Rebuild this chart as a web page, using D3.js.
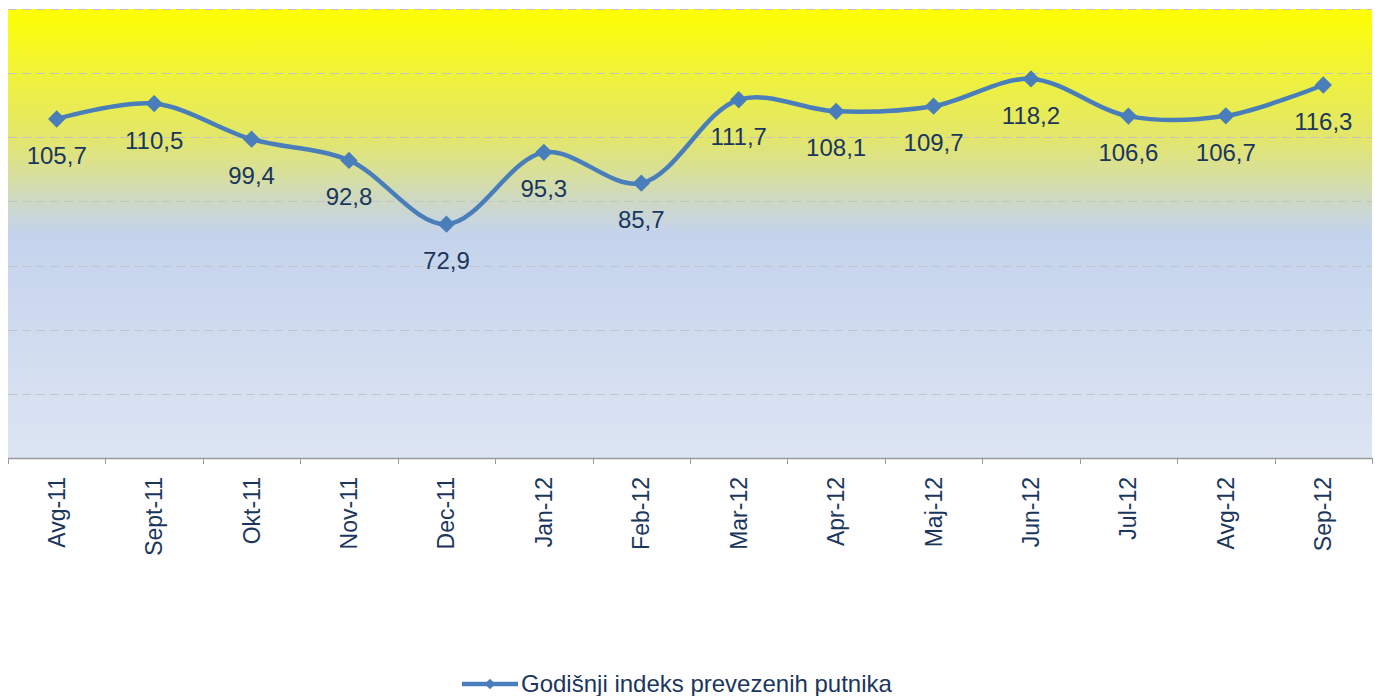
<!DOCTYPE html>
<html>
<head>
<meta charset="utf-8">
<script src="https://cdn.jsdelivr.net/npm/d3@7"></script>
<style>
  body { margin: 0; background: #fff; }
  svg { display: block; font-family: Arial, "Liberation Sans", sans-serif; }
</style>
</head>
<body>
<div class="chart"></div>
<script>
// Data
const months = ["Avg-11", "Sept-11", "Okt-11", "Nov-11", "Dec-11", "Jan-12", "Feb-12",
                "Mar-12", "Apr-12", "Maj-12", "Jun-12", "Jul-12", "Avg-12", "Sep-12"];
const indexValues = [105.7, 110.5, 99.4, 92.8, 72.9, 95.3, 85.7,
                     111.7, 108.1, 109.7, 118.2, 106.6, 106.7, 116.3];
const gridTicks = [0, 20, 40, 60, 80, 100, 120, 140];
const seriesName = "Godišnji indeks prevezenih putnika";

const W = 1375, H = 696;
const margin = { top: 9, right: 3, bottom: 238, left: 8 };
const width = W - margin.left - margin.right;
const height = H - margin.top - margin.bottom;

const lineColor = "#4a7ebb";
const textColor = "#1b365d";

const svg = d3.select(".chart")
    .append("svg")
    .attr("width", W)
    .attr("height", H);

// Background gradient for the plot area
const defs = svg.append("defs");
const grad = defs.append("linearGradient")
    .attr("id", "bg")
    .attr("x1", 0).attr("y1", 0)
    .attr("x2", 0).attr("y2", 1);
grad.append("stop").attr("offset", "0%").attr("stop-color", "#ffff00");
grad.append("stop").attr("offset", "10%").attr("stop-color", "#f4f62a");
grad.append("stop").attr("offset", "29%").attr("stop-color", "#e2e66c");
grad.append("stop").attr("offset", "38%").attr("stop-color", "#d6dea4");
grad.append("stop").attr("offset", "43%").attr("stop-color", "#cdd8c6");
grad.append("stop").attr("offset", "50%").attr("stop-color", "#c4d3ec");
grad.append("stop").attr("offset", "100%").attr("stop-color", "#dde5f3");

const g = svg.append("g")
    .attr("transform", `translate(${margin.left}, ${margin.top})`);

const xScale = d3.scaleBand()
    .domain(months)
    .range([0, width]);

const yScale = d3.scaleLinear()
    .domain([0, 140])
    .range([height, 0]);

g.append("rect")
    .attr("width", width)
    .attr("height", height)
    .attr("fill", "url(#bg)");

// Dashed gridlines
g.selectAll(".grid")
    .data(gridTicks.slice(1))
    .enter()
    .append("line")
    .attr("class", "grid")
    .attr("x1", 0)
    .attr("x2", width)
    .attr("y1", d => Math.round(yScale(d)) + 0.5)
    .attr("y2", d => Math.round(yScale(d)) + 0.5)
    .attr("stroke", "#c4c4c4")
    .attr("stroke-width", 1)
    .attr("stroke-dasharray", "9,5");

// x axis with tick marks at band edges
const xAxis = g.append("g")
    .attr("transform", `translate(0, ${height})`);

xAxis.append("line")
    .attr("x1", 0).attr("x2", width)
    .attr("y1", 0.5).attr("y2", 0.5)
    .attr("stroke", "#9a9a9a")
    .attr("stroke-width", 1.5);

const edges = months.map(m => xScale(m)).concat([width]);
xAxis.selectAll(".tick-mark")
    .data(edges)
    .enter()
    .append("line")
    .attr("x1", d => Math.round(d) + 0.5)
    .attr("x2", d => Math.round(d) + 0.5)
    .attr("y1", 0)
    .attr("y2", 6)
    .attr("stroke", "#9a9a9a")
    .attr("stroke-width", 1);

xAxis.selectAll(".x-label")
    .data(months)
    .enter()
    .append("text")
    .attr("class", "x-label")
    .attr("transform", d => `translate(${xScale(d) + xScale.bandwidth() / 2 + 8}, 19) rotate(-90)`)
    .attr("text-anchor", "end")
    .attr("fill", textColor)
    .style("font-size", "23px")
    .text(d => d);

// Smoothed line
const line = d3.line()
    .x((d, i) => xScale(months[i]) + xScale.bandwidth() / 2)
    .y(d => yScale(d))
    .curve(d3.curveCatmullRom.alpha(0.5));

g.append("path")
    .datum(indexValues)
    .attr("fill", "none")
    .attr("stroke", lineColor)
    .attr("stroke-width", 4.5)
    .attr("stroke-linejoin", "round")
    .attr("d", line);

g.selectAll(".marker")
    .data(indexValues)
    .enter()
    .append("path")
    .attr("class", "marker")
    .attr("transform", (d, i) => `translate(${xScale(months[i]) + xScale.bandwidth() / 2}, ${yScale(d)}) rotate(45)`)
    .attr("d", d3.symbol().type(d3.symbolSquare).size(150))
    .attr("fill", lineColor);

// Data labels below each point
g.selectAll(".value-label")
    .data(indexValues)
    .enter()
    .append("text")
    .attr("class", "value-label")
    .attr("x", (d, i) => xScale(months[i]) + xScale.bandwidth() / 2)
    .attr("y", d => yScale(d) + 45)
    .attr("text-anchor", "middle")
    .attr("fill", textColor)
    .style("font-size", "24px")
    .text(d => d3.format(".1f")(d).replace(".", ","));

// Legend
const legend = svg.append("g")
    .attr("transform", "translate(462, 684)");

legend.append("line")
    .attr("x1", 0).attr("x2", 56)
    .attr("y1", 0).attr("y2", 0)
    .attr("stroke", lineColor)
    .attr("stroke-width", 4.5);

legend.append("path")
    .attr("transform", "translate(28, 0) rotate(45)")
    .attr("d", d3.symbol().type(d3.symbolSquare).size(55))
    .attr("fill", lineColor);

legend.append("text")
    .attr("x", 59)
    .attr("y", 8)
    .attr("fill", textColor)
    .style("font-size", "24px")
    .text(seriesName);
</script>
</body>
</html>
